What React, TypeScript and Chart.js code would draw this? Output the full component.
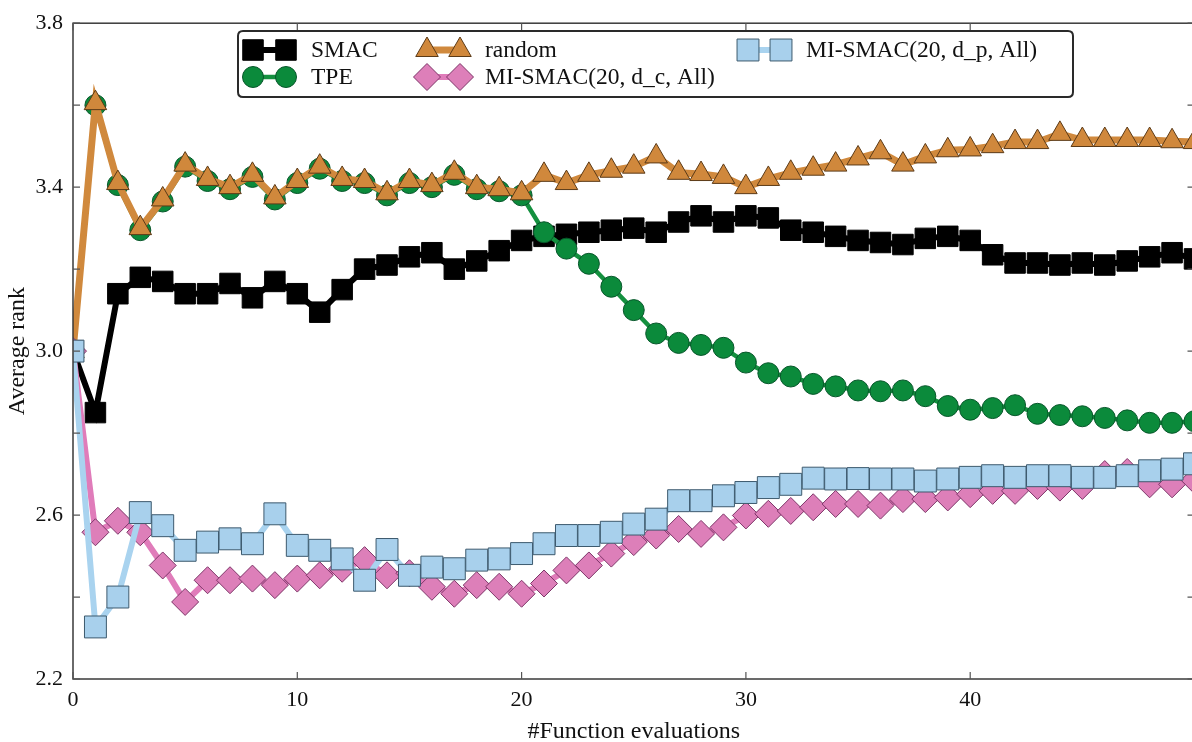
import React, { useEffect, useRef } from 'react';
import { Chart, registerables } from 'chart.js';

Chart.register(...registerables);

const evaluations = [
  0, 1, 2, 3, 4, 5, 6, 7, 8, 9, 10, 11, 12, 13, 14, 15, 16, 17, 18, 19, 20,
  21, 22, 23, 24, 25, 26, 27, 28, 29, 30, 31, 32, 33, 34, 35, 36, 37, 38, 39, 40,
  41, 42, 43, 44, 45, 46, 47, 48, 49, 50,
];

const smac = [
  3.0, 2.85, 3.14, 3.18, 3.17, 3.14, 3.14, 3.165, 3.13, 3.17, 3.14, 3.095, 3.15, 3.2, 3.21, 3.23, 3.24, 3.2, 3.22, 3.245, 3.27,
  3.28, 3.285, 3.29, 3.295, 3.3, 3.29, 3.315, 3.33, 3.315, 3.33, 3.325, 3.295, 3.29, 3.28, 3.27, 3.265, 3.26, 3.275, 3.28, 3.27,
  3.235, 3.215, 3.215, 3.21, 3.215, 3.21, 3.22, 3.23, 3.24, 3.225,
];

const tpe = [
  3.0, 3.6, 3.405, 3.295, 3.365, 3.45, 3.415, 3.395, 3.425, 3.37, 3.41, 3.445, 3.415, 3.41, 3.38, 3.41, 3.4, 3.43, 3.395, 3.39, 3.38,
  3.29, 3.25, 3.213, 3.157, 3.1, 3.043, 3.02, 3.015, 3.008, 2.972, 2.946, 2.938, 2.92, 2.914, 2.904, 2.902, 2.904, 2.89, 2.866, 2.857,
  2.861, 2.868, 2.847, 2.844, 2.841, 2.837, 2.831, 2.825, 2.825, 2.829,
];

const randomSearch = [
  3.0, 3.605, 3.41, 3.3, 3.37, 3.455, 3.42, 3.4, 3.43, 3.375, 3.415, 3.45, 3.42, 3.415, 3.385, 3.415, 3.405, 3.435, 3.4, 3.395, 3.385,
  3.43, 3.41, 3.43, 3.44, 3.45, 3.475, 3.435, 3.432, 3.425, 3.4, 3.42, 3.435, 3.445, 3.455, 3.47, 3.485, 3.455, 3.475, 3.49, 3.492,
  3.5, 3.51, 3.51, 3.53, 3.515, 3.515, 3.515, 3.515, 3.512, 3.51,
];

const miSmacDc = [
  3.0, 2.558, 2.586, 2.558, 2.477, 2.388, 2.441, 2.441, 2.445, 2.429, 2.445, 2.453, 2.469, 2.49, 2.453, 2.458, 2.425, 2.408, 2.429, 2.425, 2.408,
  2.433, 2.465, 2.477, 2.506, 2.534, 2.55, 2.566, 2.554, 2.57, 2.599, 2.603, 2.61, 2.619, 2.627, 2.627, 2.623, 2.639, 2.639, 2.643, 2.651,
  2.659, 2.659, 2.671, 2.667, 2.671, 2.7, 2.705, 2.675, 2.675, 2.685,
];

const miSmacDp = [
  3.0, 2.327, 2.4, 2.606, 2.574, 2.514, 2.534, 2.542, 2.53, 2.603, 2.526, 2.514, 2.493, 2.441, 2.516, 2.453, 2.473, 2.469, 2.49, 2.493, 2.506,
  2.53, 2.55, 2.55, 2.558, 2.578, 2.59, 2.635, 2.635, 2.647, 2.655, 2.667, 2.675, 2.69, 2.688, 2.689, 2.688, 2.688, 2.683, 2.688, 2.692,
  2.696, 2.692, 2.696, 2.696, 2.692, 2.692, 2.696, 2.708, 2.712, 2.725,
];

const seriesNames = ['SMAC', 'TPE', 'random', 'MI-SMAC(20, d_c, All)', 'MI-SMAC(20, d_p, All)'];
const yLabelValues = [2.2, 2.6, 3.0, 3.4, 3.8];

const SERIF = '"Liberation Serif", "DejaVu Serif", "Times New Roman", serif';

type Style = {
  line: string;
  fill: string;
  edge: string;
  shape: string;
  radius: number;
  lineWidth: number;
};

const styles: Style[] = [
  { line: '#000000', fill: '#000000', edge: '#000000', shape: 'rect', radius: 14.5, lineWidth: 6 },
  { line: '#14903f', fill: '#0b8a3b', edge: '#07562a', shape: 'circle', radius: 10.5, lineWidth: 4.5 },
  { line: '#d0893d', fill: '#d0883c', edge: '#5b3a17', shape: 'triangle', radius: 13, lineWidth: 7 },
  { line: '#e07cba', fill: '#dd7fb9', edge: '#7d3568', shape: 'rectRot', radius: 13.5, lineWidth: 6 },
  { line: '#a9d3ef', fill: '#a8d0ec', edge: '#3d5a6e', shape: 'rect', radius: 15.5, lineWidth: 6 },
];

function drawMarker(ctx: CanvasRenderingContext2D, s: Style, x: number, y: number) {
  const r = s.radius;
  ctx.beginPath();
  if (s.shape === 'circle') {
    ctx.arc(x, y, r, 0, Math.PI * 2);
  } else if (s.shape === 'rect') {
    const h = Math.SQRT1_2 * r;
    ctx.rect(x - h, y - h, 2 * h, 2 * h);
  } else if (s.shape === 'triangle') {
    let a = 0;
    ctx.moveTo(x + Math.sin(a) * r, y - Math.cos(a) * r);
    a += (2 * Math.PI) / 3;
    ctx.lineTo(x + Math.sin(a) * r, y - Math.cos(a) * r);
    a += (2 * Math.PI) / 3;
    ctx.lineTo(x + Math.sin(a) * r, y - Math.cos(a) * r);
    ctx.closePath();
  } else {
    ctx.moveTo(x, y - r);
    ctx.lineTo(x + r, y);
    ctx.lineTo(x, y + r);
    ctx.lineTo(x - r, y);
    ctx.closePath();
  }
  ctx.fillStyle = s.fill;
  ctx.fill();
  ctx.lineWidth = 1;
  ctx.strokeStyle = s.edge;
  ctx.stroke();
}

const framePlugin = {
  id: 'mplFrame',
  afterDatasetsDraw(chart: any) {
    const { ctx, chartArea } = chart;
    const { left, right, top, bottom } = chartArea;
    const xs = chart.scales.x;
    const ys = chart.scales.y;
    ctx.save();
    ctx.strokeStyle = '#3a3a3a';
    ctx.lineWidth = 1.5;
    ctx.strokeRect(left, top, right - left, bottom - top);
    ctx.lineWidth = 1.2;
    ctx.strokeStyle = '#555';
    xs.ticks.forEach((t: any) => {
      const px = xs.getPixelForValue(t.value);
      ctx.beginPath();
      ctx.moveTo(px, bottom);
      ctx.lineTo(px, bottom - 7);
      ctx.moveTo(px, top);
      ctx.lineTo(px, top + 7);
      ctx.stroke();
    });
    ys.ticks.forEach((t: any) => {
      const py = ys.getPixelForValue(t.value);
      ctx.beginPath();
      ctx.moveTo(left, py);
      ctx.lineTo(left + 7, py);
      ctx.moveTo(right, py);
      ctx.lineTo(right - 7, py);
      ctx.stroke();
    });
    ctx.restore();
  },
};

const legendPlugin = {
  id: 'mplLegend',
  afterDraw(chart: any) {
    const ctx: CanvasRenderingContext2D = chart.ctx;
    ctx.save();
    const bx = 238, by = 31, bw = 835, bh = 66, rr = 5;
    ctx.beginPath();
    ctx.moveTo(bx + rr, by);
    ctx.lineTo(bx + bw - rr, by);
    ctx.quadraticCurveTo(bx + bw, by, bx + bw, by + rr);
    ctx.lineTo(bx + bw, by + bh - rr);
    ctx.quadraticCurveTo(bx + bw, by + bh, bx + bw - rr, by + bh);
    ctx.lineTo(bx + rr, by + bh);
    ctx.quadraticCurveTo(bx, by + bh, bx, by + bh - rr);
    ctx.lineTo(bx, by + rr);
    ctx.quadraticCurveTo(bx, by, bx + rr, by);
    ctx.closePath();
    ctx.fillStyle = '#ffffff';
    ctx.fill();
    ctx.lineWidth = 2;
    ctx.strokeStyle = '#2a2a2a';
    ctx.stroke();

    const cols = [253, 253, 427, 427, 748];
    const rows = [50, 77, 50, 77, 50];
    ctx.font = `23.5px ${SERIF}`;
    ctx.textBaseline = 'middle';
    ctx.textAlign = 'left';
    seriesNames.forEach((name, i) => {
      const s = styles[i];
      const x1 = cols[i];
      const x2 = x1 + 33;
      const y = rows[i];
      ctx.beginPath();
      ctx.moveTo(x1, y);
      ctx.lineTo(x2, y);
      ctx.lineWidth = s.lineWidth;
      ctx.strokeStyle = s.line;
      ctx.stroke();
      drawMarker(ctx, s, x1, y);
      drawMarker(ctx, s, x2, y);
      ctx.fillStyle = '#111';
      ctx.fillText(name, x1 + 58, y + 1);
    });
    ctx.restore();
  },
};

export default function App() {
  const canvasRef = useRef<HTMLCanvasElement | null>(null);

  useEffect(() => {
    if (!canvasRef.current) return;
    const series = [smac, tpe, randomSearch, miSmacDc, miSmacDp];
    const datasets = series.map((vals, i) => {
      const s = styles[i];
      return {
        label: seriesNames[i],
        data: evaluations.map((e, k) => ({ x: e, y: vals[k] })),
        borderColor: s.line,
        borderWidth: s.lineWidth,
        backgroundColor: s.fill,
        pointStyle: s.shape,
        pointRadius: s.radius,
        pointHoverRadius: s.radius,
        pointBackgroundColor: s.fill,
        pointBorderColor: s.edge,
        pointBorderWidth: 1,
        tension: 0,
        fill: false,
        clip: 0,
        order: 4 - i,
      };
    });

    const chart = new Chart(canvasRef.current, {
      type: 'line',
      data: { datasets: datasets as any },
      options: {
        animation: false,
        responsive: true,
        maintainAspectRatio: false,
        layout: { padding: { top: 18, right: 1, bottom: 0, left: 0 } },
        plugins: {
          legend: { display: false },
          tooltip: { enabled: false },
        },
        scales: {
          x: {
            type: 'linear',
            min: 0,
            max: 50,
            afterFit: (s: any) => {
              s.height = 63;
            },
            grid: { display: false, drawTicks: false },
            border: { display: false },
            ticks: {
              stepSize: 10,
              maxRotation: 0,
              padding: 8,
              color: '#111',
              font: { family: SERIF, size: 22 },
              callback: (v: any) => (Number(v) === 50 ? '' : String(v)),
            },
            title: {
              display: true,
              text: '#Function evaluations',
              color: '#111',
              font: { family: SERIF, size: 24, lineHeight: 1 },
              padding: { top: 0, bottom: -2 },
            },
          },
          y: {
            type: 'linear',
            min: 2.2,
            max: 3.8,
            afterFit: (s: any) => {
              s.width = 73;
            },
            grid: { display: false, drawTicks: false },
            border: { display: false },
            ticks: {
              stepSize: 0.2,
              padding: 10,
              color: '#111',
              font: { family: SERIF, size: 22 },
              callback: (v: any) => {
                const n = Math.round(Number(v) * 10) / 10;
                return yLabelValues.some((l) => Math.abs(l - n) < 1e-6) ? n.toFixed(1) : '';
              },
            },
            title: {
              display: true,
              text: 'Average rank',
              color: '#111',
              font: { family: SERIF, size: 24, lineHeight: 1 },
              padding: { top: 6, bottom: 0 },
            },
          },
        },
      },
      plugins: [framePlugin, legendPlugin],
    });
    return () => chart.destroy();
  }, []);

  return (
    <div
      style={{
        position: 'absolute',
        left: 0,
        top: 0,
        width: 1192,
        height: 742,
        overflow: 'hidden',
        background: '#fff',
      }}
    >
      <div style={{ position: 'relative', width: 1211, height: 742 }}>
        <canvas ref={canvasRef} />
      </div>
    </div>
  );
}
